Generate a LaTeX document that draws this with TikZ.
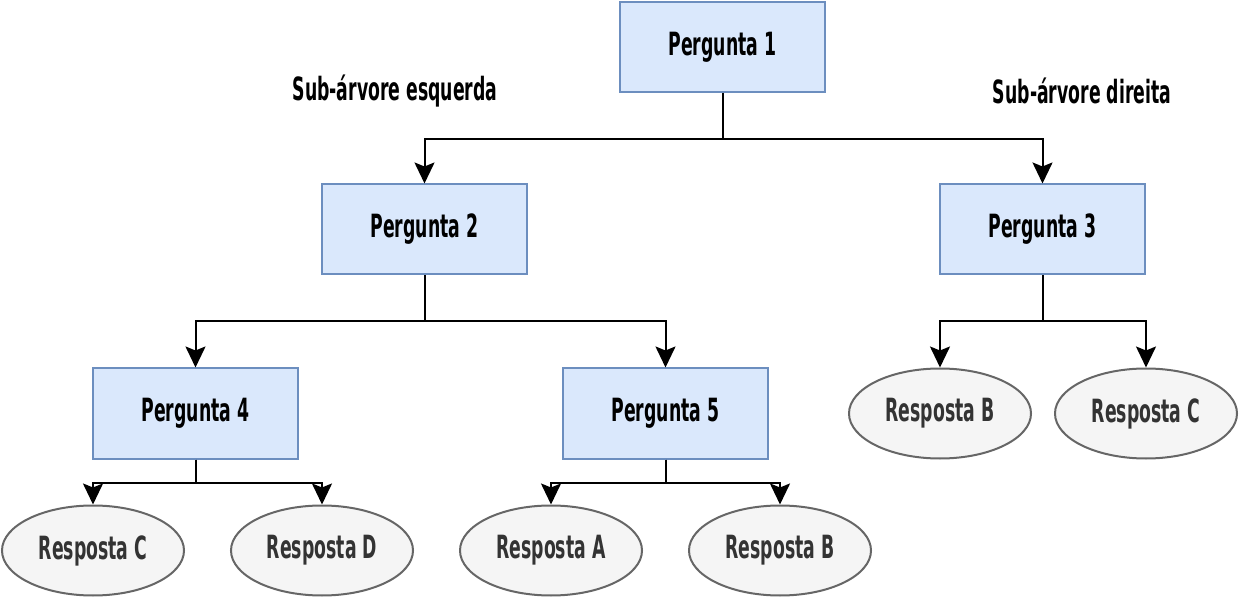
\documentclass[tikz,border=0pt]{standalone}
\usepackage{fontspec}
\setmainfont{DejaVu Sans Condensed}[FakeStretch=0.6]
\usetikzlibrary{arrows.meta,shapes.geometric}
\definecolor{qfill}{HTML}{DAE8FC}
\definecolor{qdraw}{HTML}{6C8EBF}
\definecolor{afill}{HTML}{F5F5F5}
\definecolor{adraw}{HTML}{666666}
\definecolor{atext}{HTML}{333333}
\begin{document}
\begin{tikzpicture}[x=1pt,y=-1pt,
  qbox/.style={draw=qdraw,fill=qfill,line width=2pt,minimum width=205pt,minimum height=90pt,inner sep=0pt,font=\fontsize{32}{36}\selectfont\bfseries},
  ans/.style={ellipse,draw=adraw,fill=afill,line width=2pt,minimum width=182pt,minimum height=90pt,inner sep=0pt,text=atext,font=\fontsize{32}{36}\selectfont\bfseries},
  lbl/.style={font=\fontsize{32}{36}\selectfont\bfseries},
  conn/.style={line width=2pt,-{Stealth[length=21pt,width=20pt,inset=4pt,fill=black]}}]
\useasboundingbox (0,0) rectangle (1242,601);
\node[qbox] (p1) at (722.5,47) {Pergunta 1};
\node[qbox] (p2) at (424.5,229.5) {Pergunta 2};
\node[qbox] (p3) at (1042.5,229.5) {Pergunta 3};
\node[qbox] (p4) at (195.5,413.5) {Pergunta 4};
\node[qbox] (p5) at (665.5,413.5) {Pergunta 5};
\node[ans] (a3b) at (940,413.5) {Resposta B};
\node[ans] (a3c) at (1146,413.5) {Resposta C};
\node[ans] (a4c) at (93,550.5) {Resposta C};
\node[ans] (a4d) at (322,550.5) {Resposta D};
\node[ans] (a5a) at (551,550.5) {Resposta A};
\node[ans] (a5b) at (780,550.5) {Resposta B};
\node[lbl] (l1) at (395,91) {Sub-árvore esquerda};
\node[lbl] (l2) at (1082,91) {Sub-árvore direita};
\draw[conn] (p1.south) -- ++(0,46) -| (p2.north);
\draw[conn] (p1.south) -- ++(0,46) -| (p3.north);
\draw[conn] (p2.south) -- ++(0,46) -| (p4.north);
\draw[conn] (p2.south) -- ++(0,46) -| (p5.north);
\draw[conn] (p3.south) -- ++(0,46) -| (a3b.north);
\draw[conn] (p3.south) -- ++(0,46) -| (a3c.north);
\draw[conn] (p4.south) -- ++(0,23) -| (a4c.north);
\draw[conn] (p4.south) -- ++(0,23) -| (a4d.north);
\draw[conn] (p5.south) -- ++(0,23) -| (a5a.north);
\draw[conn] (p5.south) -- ++(0,23) -| (a5b.north);
\end{tikzpicture}
\end{document}
